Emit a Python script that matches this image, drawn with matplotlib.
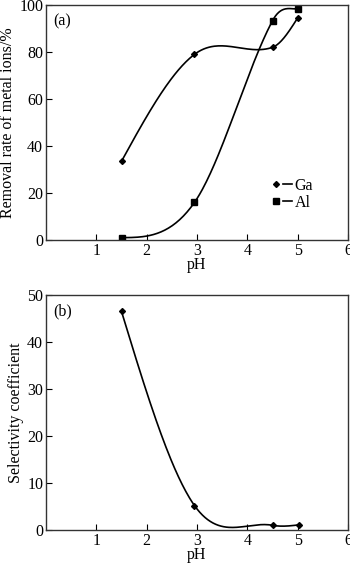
import numpy as np
import matplotlib
matplotlib.use("Agg")
import matplotlib.pyplot as plt
from matplotlib.lines import Line2D
from matplotlib.legend_handler import HandlerTuple

plt.rcParams['font.family'] = ['Liberation Serif', 'DejaVu Serif']
plt.rcParams['mathtext.fontset'] = 'stix'

# Removal rate of metal ions vs pH
ph = [1.5, 2.95, 4.5, 5.0]
ga_removal = [33.5, 79.0, 82.0, 94.5]
al_removal = [1.0, 16.0, 93.3, 98.3]

# Selectivity coefficient vs pH
ph_sel = [1.5, 2.95, 4.5, 5.03]
selectivity = [46.5, 5.2, 1.0, 1.1]


def smooth_curve(x, y, n=60):
    """Hermite curve through the points: centred slopes inside,
    quadratic end slopes at both ends (flattened if they reverse)."""
    x = np.asarray(x, float)
    y = np.asarray(y, float)
    k = len(x)
    m = np.empty(k)
    for i in range(1, k - 1):
        m[i] = (y[i + 1] - y[i - 1]) / (x[i + 1] - x[i - 1])
    s0 = (y[1] - y[0]) / (x[1] - x[0])
    s1 = (y[-1] - y[-2]) / (x[-1] - x[-2])
    m[0] = 1.5 * s0 - 0.5 * m[1]
    m[-1] = 1.5 * s1 - 0.5 * m[-2]
    if m[0] * s0 < 0:
        m[0] = 0.0
    if m[-1] * s1 < 0:
        m[-1] = 0.0
    xs_all, ys_all = [], []
    for i in range(k - 1):
        h = x[i + 1] - x[i]
        t = np.linspace(0, 1, n)
        h00 = 2 * t ** 3 - 3 * t ** 2 + 1
        h10 = t ** 3 - 2 * t ** 2 + t
        h01 = -2 * t ** 3 + 3 * t ** 2
        h11 = t ** 3 - t ** 2
        xs_all.append(x[i] + t * h)
        ys_all.append(h00 * y[i] + h10 * h * m[i] + h01 * y[i + 1] + h11 * h * m[i + 1])
    return np.concatenate(xs_all), np.concatenate(ys_all)


W, H = 350, 568
fig = plt.figure(figsize=(W / 100, H / 100), dpi=100)

ax1 = fig.add_axes([46 / W, 1 - 240 / H, 302 / W, 235 / H])
ax2 = fig.add_axes([46 / W, 1 - 530 / H, 302 / W, 235 / H])

lw = 1.2
fs = 11.5

# (a) removal rates
xs, ys = smooth_curve(ph, ga_removal)
ax1.plot(xs, ys, color='black', lw=lw)
ax1.plot(ph, ga_removal, 'D', color='black', ms=3)
xs, ys = smooth_curve(ph, al_removal)
ax1.plot(xs, ys, color='black', lw=lw)
ax1.plot(ph, al_removal, 's', color='black', ms=4.5)

ax1.set_xlim(0, 6)
ax1.set_ylim(0, 100)
ax1.set_xticks([1, 2, 3, 4, 5, 6])
ax1.set_yticks([0, 20, 40, 60, 80, 100])
ax1.set_xlabel('pH', fontsize=fs, labelpad=-1)
ax1.set_ylabel('Removal rate of metal ions/%', fontsize=fs, labelpad=2)
ax1.text(0.025, 0.965, '(a)', transform=ax1.transAxes, fontsize=fs, va='top')

ga_handle = (Line2D([], [], marker='D', ms=3, color='black', ls='none'),
             Line2D([], [], color='black', lw=lw))
al_handle = (Line2D([], [], marker='s', ms=4.5, color='black', ls='none'),
             Line2D([], [], color='black', lw=lw))
ax1.legend([ga_handle, al_handle], ['Ga', 'Al'],
           handler_map={tuple: HandlerTuple(ndivide=None, pad=0.2)},
           loc='lower left', bbox_to_anchor=(0.72, 0.09), frameon=False,
           fontsize=fs, handlelength=1.3, handletextpad=0.15,
           labelspacing=0.05, borderpad=0)

# (b) selectivity coefficient
xs, ys = smooth_curve(ph_sel, selectivity)
ax2.plot(xs, ys, color='black', lw=lw)
ax2.plot(ph_sel, selectivity, 'D', color='black', ms=3)

ax2.set_xlim(0, 6)
ax2.set_ylim(0, 50)
ax2.set_xticks([1, 2, 3, 4, 5, 6])
ax2.set_yticks([0, 10, 20, 30, 40, 50])
ax2.set_xlabel('pH', fontsize=fs, labelpad=-1)
ax2.set_ylabel('Selectivity coefficient', fontsize=fs, labelpad=2)
ax2.text(0.025, 0.965, '(b)', transform=ax2.transAxes, fontsize=fs, va='top')

for ax in (ax1, ax2):
    ax.tick_params(direction='in', length=4, width=0.8, labelsize=fs,
                   top=False, right=False, pad=2)
    for sp in ax.spines.values():
        sp.set_linewidth(1.0)
        sp.set_color('#333333')

fig.savefig('out.png', dpi=100)
